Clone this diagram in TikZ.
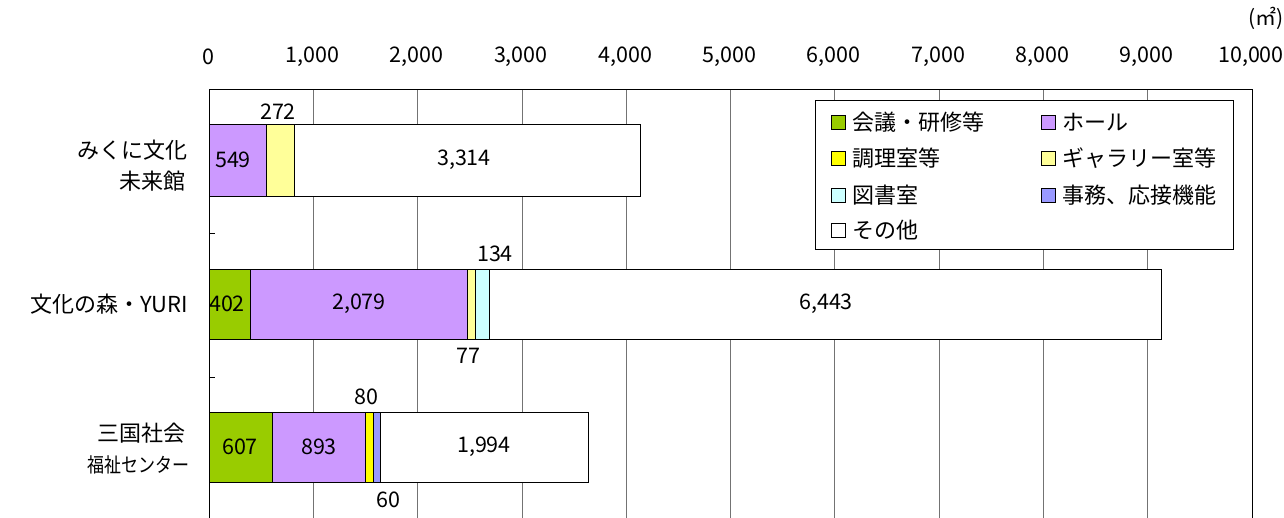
\documentclass[tikz,border=0pt]{standalone}
\usepackage{fontspec}
\setmainfont{Noto Sans CJK JP}
\definecolor{cgreen}{HTML}{99CC00}
\definecolor{cpurple}{HTML}{CC99FF}
\definecolor{cltyellow}{HTML}{FFFF99}
\definecolor{cyellow}{HTML}{FFFF00}
\definecolor{ccyan}{HTML}{CCFFFF}
\definecolor{cblue}{HTML}{9999FF}
\begin{document}
\begin{tikzpicture}[x=1pt,y=-1pt,
  seg/.style={draw=black,line width=0.9pt},
  num/.style={font=\fontsize{21.5}{25}\selectfont, inner sep=0pt},
  cat/.style={font=\fontsize{22}{26}\selectfont, inner sep=0pt, anchor=east},
  legtext/.style={font=\fontsize{22}{26}\selectfont, inner sep=0pt, anchor=west},
  legsq/.style={draw=black, line width=0.8pt, minimum size=14pt, inner sep=0pt},
  gridline/.style={draw=black!55, line width=0.8pt}]
\useasboundingbox (0,0) rectangle (1284,518);
\fill[white] (0,0) rectangle (1284,518);
% grid
\foreach \k in {1,...,9} \draw[gridline] ({209+104.3*\k},90) -- ({209+104.3*\k},518);
\draw[black, line width=1pt] (209,518) -- (209,90) -- (1252,90) -- (1252,518);
\draw[black, line width=0.8pt] (209,233.5) -- (215,233.5);
\draw[black, line width=0.8pt] (209,377) -- (215,377);
% axis labels
\foreach \k/\t in {0/0,1/{1,000},2/{2,000},3/{3,000},4/{4,000},5/{5,000},6/{6,000},7/{7,000},8/{8,000},9/{9,000},10/{10,000}}
  \node[num] (ax\k) at ({208+104.3*\k},57) {\t};
\node[font=\fontsize{21}{25}\selectfont, inner sep=0pt, anchor=east] (unit) at (1284,18) {(㎡)};
% bar 1
\draw[seg, fill=cpurple] (209,124) rectangle (266.3,196);
\draw[seg, fill=cltyellow] (266.3,124) rectangle (294.6,196);
\draw[seg, fill=white] (294.6,124) rectangle (640.3,196);
\node[num] (b1a) at (233,160) {549};
\node[num] (b1b) at (278,112) {272};
\node[num] (b1c) at (464,160) {3,314};
% bar 2
\draw[seg, fill=cgreen] (209,269) rectangle (250.9,339);
\draw[seg, fill=cpurple] (250.9,269) rectangle (467.8,339);
\draw[seg, fill=cltyellow] (467.8,269) rectangle (475.8,339);
\draw[seg, fill=ccyan] (475.8,269) rectangle (489.8,339);
\draw[seg, fill=white] (489.8,269) rectangle (1161.8,339);
\node[num] (b2a) at (227,304) {402};
\node[num] (b2b) at (359,304) {2,079};
\node[num] (b2c) at (468,356) {77};
\node[num] (b2d) at (495,254) {134};
\node[num] (b2e) at (826,304) {6,443};
% bar 3
\draw[seg, fill=cgreen] (209,412) rectangle (272.3,482);
\draw[seg, fill=cpurple] (272.3,412) rectangle (365.5,482);
\draw[seg, fill=cyellow] (365.5,412) rectangle (373.8,482);
\draw[seg, fill=cblue] (373.8,412) rectangle (380.1,482);
\draw[seg, fill=white] (380.1,412) rectangle (588,482);
\node[num] (b3a) at (240,447) {607};
\node[num] (b3b) at (319,447) {893};
\node[num] (b3c) at (366,397) {80};
\node[num] (b3d) at (388,500) {60};
\node[num] (b3e) at (484,447) {1,994};
% categories
\node[cat] (c1a) at (188,150) {みくに文化};
\node[cat] (c1b) at (186,181) {未来館};
\node[cat] (c2) at (188,304) {文化の森・YURI};
\node[cat] (c3a) at (186,433) {三国社会};
\node[inner sep=0pt, anchor=east, font=\fontsize{20}{24}\selectfont] (c3b) at (190,465) {\scalebox{0.85}[1]{福祉センター}};
% legend
\draw[black, line width=0.9pt, fill=white] (815.7,100.7) rectangle (1233,249);
\node[legsq, fill=cgreen] (l1s) at (838,122) {};
\node[legtext] (l1) at (852,122) {会議・研修等};
\node[legsq, fill=cpurple] (l2s) at (1048,122) {};
\node[legtext] (l2) at (1062,122) {ホール};
\node[legsq, fill=cyellow] (l3s) at (838,158) {};
\node[legtext] (l3) at (852,158) {調理室等};
\node[legsq, fill=cltyellow] (l4s) at (1048,158) {};
\node[legtext] (l4) at (1062,158) {ギャラリー室等};
\node[legsq, fill=ccyan] (l5s) at (838,195) {};
\node[legtext] (l5) at (852,195) {図書室};
\node[legsq, fill=cblue] (l6s) at (1048,195) {};
\node[legtext] (l6) at (1062,195) {事務、応接機能};
\node[legsq, fill=white] (l7s) at (838,230) {};
\node[legtext] (l7) at (852,230) {その他};
\end{tikzpicture}
\end{document}
